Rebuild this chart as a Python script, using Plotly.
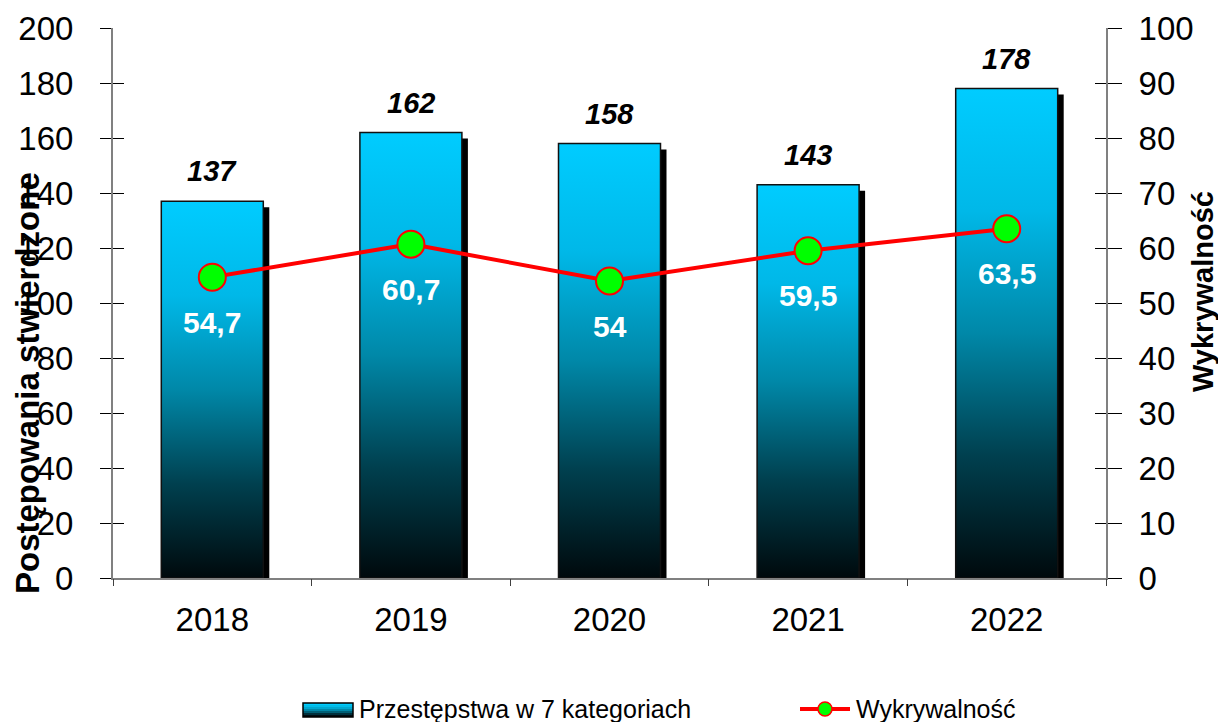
import plotly.graph_objects as go

years = ["2018", "2019", "2020", "2021", "2022"]
cases = [137, 162, 158, 143, 178]
detection = [54.7, 60.7, 54.0, 59.5, 63.5]
left_ticks = list(range(0, 201, 20))
right_ticks = list(range(0, 101, 10))

FONT = "Liberation Sans, Arial, sans-serif"
GRAD = [[0.0, "#00090c"], [0.25, "#00404f"], [0.5, "#0088a8"], [0.75, "#00b8e8"], [1.0, "#00ccff"]]

# The page body has an 8px margin, so the figure is drawn 8px smaller and offset.
OFF = 8
W_PX, H_PX = 1226 - OFF, 722 - OFF
# plot-area geometry in reference page px
L, R, T, B = 113, 1106, 28, 578
px_per_cat = (R - L) / len(years)
px_per_unit = (B - T) / 200.0
half_w = 51 / px_per_cat
sdx = 6 / px_per_cat
sdy = 6 / px_per_unit

fig = go.Figure()

for i, v in enumerate(cases):
    # shadow
    fig.add_trace(go.Scatter(
        x=[i - half_w + sdx, i + half_w + sdx, i + half_w + sdx, i - half_w + sdx, i - half_w + sdx],
        y=[-sdy, -sdy, v - sdy, v - sdy, -sdy],
        fill="toself", mode="lines", line=dict(width=0, color="black"),
        fillcolor="black", hoverinfo="skip", showlegend=False,
        xaxis="x", yaxis="y"))
    # bar
    fig.add_trace(go.Scatter(
        x=[i - half_w, i + half_w, i + half_w, i - half_w, i - half_w],
        y=[0, 0, v, v, 0],
        fill="toself", mode="lines", line=dict(width=1.5, color="#111111"),
        fillgradient=dict(type="vertical", colorscale=GRAD),
        name="Przestępstwa w 7 kategoriach", hoverinfo="skip", showlegend=False,
        xaxis="x", yaxis="y"))

fig.add_trace(go.Scatter(
    x=list(range(len(years))), y=detection, mode="lines+markers",
    line=dict(color="#ff0000", width=4),
    marker=dict(size=27, color="#00ff00", line=dict(color="#ff0000", width=2)),
    name="Wykrywalność", showlegend=False, xaxis="x", yaxis="y2", cliponaxis=False))

# empty traces to make overlay axes render
for xa, ya in [("x2", "y"), ("x", "y3"), ("x", "y4")]:
    fig.add_trace(go.Scatter(x=[None], y=[None], xaxis=xa, yaxis=ya, showlegend=False, hoverinfo="skip"))

annotations = []
for i, v in enumerate(cases):
    annotations.append(dict(x=i, y=v, xref="x", yref="y", text=f"<b><i>{v}</i></b>",
                            showarrow=False, yshift=30, font=dict(family=FONT, size=29, color="black")))
for i, v in enumerate(detection):
    annotations.append(dict(x=i, y=v, xref="x", yref="y2", text="<b>" + f"{v:g}".replace(".", ",") + "</b>",
                            showarrow=False, yshift=-45, font=dict(family=FONT, size=30, color="white")))

def px2paper_x(px):
    return (px - L) / (R - L)

def px2paper_y(py):
    return (B - py) / (B - T)

annotations.append(dict(x=px2paper_x(27), y=px2paper_y(383), xref="paper", yref="paper",
                        text="<b>Postępowania stwierdzone</b>", textangle=-90, showarrow=False,
                        xanchor="center", yanchor="middle", font=dict(family=FONT, size=33, color="black")))
annotations.append(dict(x=px2paper_x(1203), y=px2paper_y(292), xref="paper", yref="paper",
                        text="<b>Wykrywalność</b>", textangle=-90, showarrow=False,
                        xanchor="center", yanchor="middle", font=dict(family=FONT, size=29, color="black")))

# manual legend
leg_y = 709
annotations.append(dict(x=px2paper_x(357), y=px2paper_y(leg_y), xref="paper", yref="paper",
                        text="Przestępstwa w 7 kategoriach", showarrow=False, xanchor="left", yanchor="middle",
                        font=dict(family=FONT, size=25, color="black")))
annotations.append(dict(x=px2paper_x(854), y=px2paper_y(leg_y), xref="paper", yref="paper",
                        text="Wykrywalność", showarrow=False, xanchor="left", yanchor="middle",
                        font=dict(family=FONT, size=25, color="black")))

shapes = []
strip_colors = ["#00ccff", "#00bde9", "#00a8d0", "#0088a8", "#005f75", "#00303c", "#000d12"]
y_top, y_bot = 703, 717
n = len(strip_colors)
for k, c in enumerate(strip_colors):
    y0 = y_top + (y_bot - y_top) * k / n
    y1 = y_top + (y_bot - y_top) * (k + 1) / n
    shapes.append(dict(type="rect", xref="paper", yref="paper",
                       x0=px2paper_x(303), x1=px2paper_x(353), y0=px2paper_y(y0), y1=px2paper_y(y1),
                       fillcolor=c, line=dict(width=0)))
shapes.append(dict(type="rect", xref="paper", yref="paper",
                   x0=px2paper_x(303), x1=px2paper_x(353), y0=px2paper_y(y_top), y1=px2paper_y(y_bot),
                   fillcolor="rgba(0,0,0,0)", line=dict(width=1.5, color="black")))
shapes.append(dict(type="line", xref="paper", yref="paper",
                   x0=px2paper_x(800), x1=px2paper_x(850), y0=px2paper_y(leg_y), y1=px2paper_y(leg_y),
                   line=dict(color="#ff0000", width=4)))
shapes.append(dict(type="circle", xref="paper", yref="paper",
                   x0=px2paper_x(818), x1=px2paper_x(832), y0=px2paper_y(leg_y - 7), y1=px2paper_y(leg_y + 7),
                   fillcolor="#00ff00", line=dict(color="#ff0000", width=1.5)))

axis_common = dict(showgrid=False, zeroline=False, automargin=False)
fig.update_layout(
    width=W_PX, height=H_PX,
    margin=dict(l=L - OFF, r=1226 - R, t=T - OFF, b=722 - B, autoexpand=False),
    paper_bgcolor="white", plot_bgcolor="white",
    font=dict(family=FONT, color="black"),
    showlegend=False,
    xaxis=dict(range=[-0.5, len(years) - 0.5], tickvals=list(range(len(years))), ticktext=years,
               ticks="", showline=True, linecolor="#808080", linewidth=2,
               tickfont=dict(size=33, family=FONT), ticklabelstandoff=11, **axis_common),
    xaxis2=dict(overlaying="x", anchor="y", side="bottom", range=[-0.5, len(years) - 0.5],
                tickvals=[i - 0.5 for i in range(len(years) + 1)], ticks="outside", ticklen=7,
                tickcolor="#404040", showticklabels=False, showline=False, **axis_common),
    yaxis=dict(range=[0, 200], tickvals=left_ticks, ticks="outside", ticklen=11, tickcolor="black",
               showline=True, linecolor="#808080", linewidth=2,
               tickfont=dict(size=33, family=FONT), ticklabelstandoff=20, **axis_common),
    yaxis3=dict(overlaying="y", anchor="x", side="left", range=[0, 200], tickvals=left_ticks,
                ticks="inside", ticklen=11, tickcolor="black", showticklabels=False, showline=False,
                **axis_common),
    yaxis2=dict(overlaying="y", anchor="x", side="right", range=[0, 100], tickvals=right_ticks,
                ticks="outside", ticklen=14, tickcolor="black", showline=True, linecolor="#808080",
                linewidth=2, tickfont=dict(size=33, family=FONT), ticklabelstandoff=10, **axis_common),
    yaxis4=dict(overlaying="y", anchor="x", side="right", range=[0, 100], tickvals=right_ticks,
                ticks="inside", ticklen=11, tickcolor="black", showticklabels=False, showline=False,
                **axis_common),
    annotations=annotations,
    shapes=shapes,
)

fig.write_html("out.html")
